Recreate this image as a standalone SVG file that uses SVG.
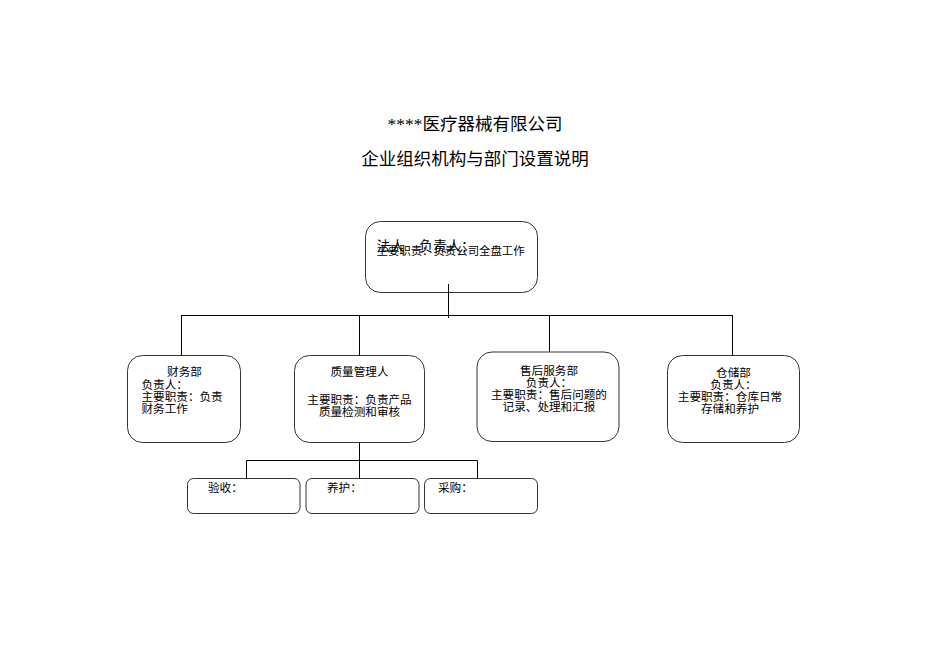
<svg xmlns="http://www.w3.org/2000/svg" width="950" height="672" viewBox="0 0 950 672">
<style>
text{font-family:"Liberation Serif","Noto Sans CJK SC",serif;fill:#000}
.box{fill:#fff;stroke:#333;stroke-width:1}
.t{font-size:11.6px}
.c{text-anchor:middle}
.ln{stroke:#000;stroke-width:1;fill:none}
</style>
<rect width="950" height="672" fill="#fff"/>
<text x="475" y="130" class="c" style="font-size:17.5px">****医疗器械有限公司</text>
<text x="475" y="165" class="c" style="font-size:17.5px">企业组织机构与部门设置说明</text>

<g id="ceo">
<rect class="box" x="365.5" y="221.5" width="172" height="71" rx="15"/>
<text x="376.5" y="251" style="font-size:14px">法人</text>
<text x="419" y="251" style="font-size:14px">负责人：</text>
<text x="376.5" y="255" class="t" style="font-size:11.4px">主要职责：负责公司全盘工作</text>
</g>

<g id="caiwu">
<rect class="box" x="127.5" y="355.5" width="113" height="87" rx="15"/>
<text x="184.5" y="376" class="t c">财务部</text>
<text x="141.5" y="389" class="t">负责人：</text>
<text x="141.5" y="401" class="t">主要职责：负责</text>
<text x="141.5" y="413" class="t">财务工作</text>
</g>

<g id="zhiliang">
<rect class="box" x="294.5" y="355.5" width="130" height="87" rx="15"/>
<text x="359.5" y="376" class="t c">质量管理人</text>
<text x="359.5" y="404" class="t c">主要职责：负责产品</text>
<text x="359.5" y="416" class="t c">质量检测和审核</text>
</g>

<g id="shouhou">
<rect class="box" x="477" y="352" width="142" height="89.5" rx="15"/>
<text x="549" y="375" class="t c">售后服务部</text>
<text x="549" y="387" class="t c">负责人：</text>
<text x="549" y="399" class="t c">主要职责：售后问题的</text>
<text x="549" y="411" class="t c">记录、处理和汇报</text>
</g>

<g id="cangchu">
<rect class="box" x="667.5" y="355.5" width="132" height="87" rx="15"/>
<text x="733.5" y="377" class="t c">仓储部</text>
<text x="733.5" y="389" class="t c">负责人：</text>
<text x="730" y="401" class="t c">主要职责：仓库日常</text>
<text x="730" y="413" class="t c">存储和养护</text>
</g>

<g id="yanshou">
<rect class="box" x="187.5" y="478.5" width="112.5" height="35" rx="6"/>
<text x="208" y="492" class="t">验收：</text>
</g>
<g id="yanghu">
<rect class="box" x="306" y="478.5" width="113" height="35" rx="6"/>
<text x="327" y="492" class="t">养护：</text>
</g>
<g id="caigou">
<rect class="box" x="424.5" y="478.5" width="113" height="35" rx="6"/>
<text x="438" y="492" class="t">采购：</text>
</g>

<g id="connectors" class="ln">
<path d="M448.5 284V318"/>
<path d="M181.5 315.5H733"/>
<path d="M181.5 315V356"/>
<path d="M359.5 315V355.5"/>
<path d="M549.5 315V352"/>
<path d="M732.5 315V355.5"/>
<path d="M359.5 442.5V478.5"/>
<path d="M246.5 460.5H477.5"/>
<path d="M246.5 460.5V478.5"/>
<path d="M477.5 460.5V478.5"/>
</g>
</svg>
